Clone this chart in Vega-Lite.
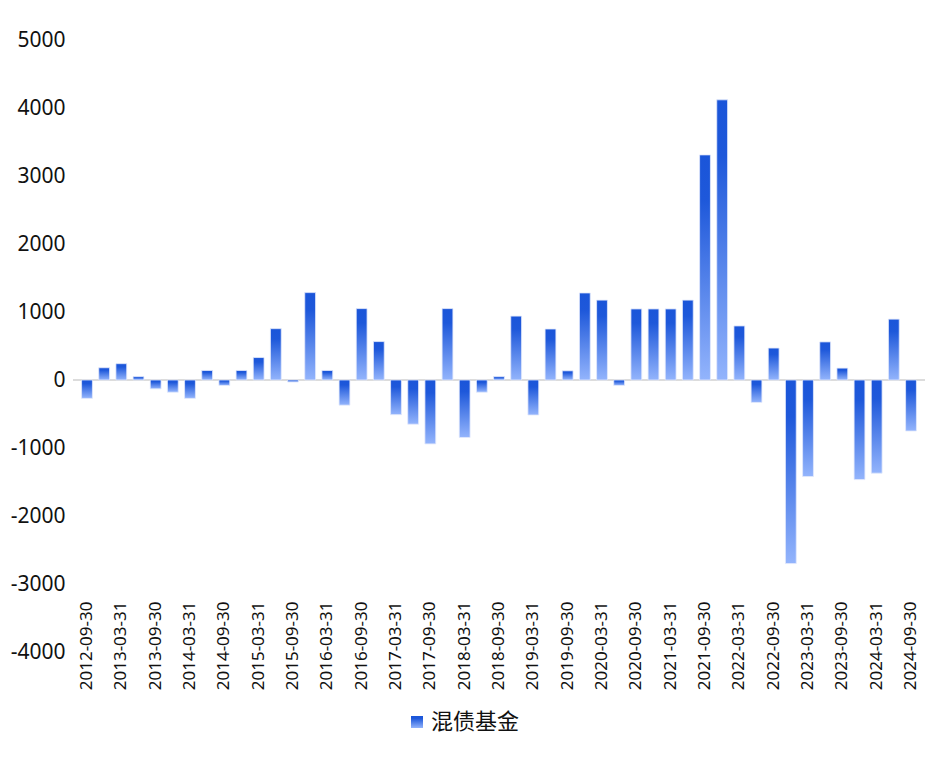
{
  "$schema": "https://vega.github.io/schema/vega-lite/v6.json",
  "autosize": {"type": "none"},
  "width": 852,
  "height": 612,
  "padding": {"left": 73, "top": 40, "right": 6, "bottom": 113},
  "background": "white",
  "config": {
    "view": {"stroke": null},
    "font": "Noto Sans, Noto Sans CJK SC"
  },
  "data": {
    "values": [
      {"date": "2012-09-30", "value": -270},
      {"date": "2012-12-31", "value": 180},
      {"date": "2013-03-31", "value": 240},
      {"date": "2013-06-30", "value": 50},
      {"date": "2013-09-30", "value": -130},
      {"date": "2013-12-31", "value": -180},
      {"date": "2014-03-31", "value": -270},
      {"date": "2014-06-30", "value": 140},
      {"date": "2014-09-30", "value": -80},
      {"date": "2014-12-31", "value": 140},
      {"date": "2015-03-31", "value": 330},
      {"date": "2015-06-30", "value": 755},
      {"date": "2015-09-30", "value": -30},
      {"date": "2015-12-31", "value": 1285},
      {"date": "2016-03-31", "value": 140},
      {"date": "2016-06-30", "value": -370},
      {"date": "2016-09-30", "value": 1050},
      {"date": "2016-12-31", "value": 565},
      {"date": "2017-03-31", "value": -510},
      {"date": "2017-06-30", "value": -650},
      {"date": "2017-09-30", "value": -940},
      {"date": "2017-12-31", "value": 1050},
      {"date": "2018-03-31", "value": -845},
      {"date": "2018-06-30", "value": -180},
      {"date": "2018-09-30", "value": 50},
      {"date": "2018-12-31", "value": 940},
      {"date": "2019-03-31", "value": -515},
      {"date": "2019-06-30", "value": 750},
      {"date": "2019-09-30", "value": 135},
      {"date": "2019-12-31", "value": 1280},
      {"date": "2020-03-31", "value": 1175},
      {"date": "2020-06-30", "value": -80},
      {"date": "2020-09-30", "value": 1045},
      {"date": "2020-12-31", "value": 1045},
      {"date": "2021-03-31", "value": 1045},
      {"date": "2021-06-30", "value": 1175},
      {"date": "2021-09-30", "value": 3310},
      {"date": "2021-12-31", "value": 4120},
      {"date": "2022-03-31", "value": 795},
      {"date": "2022-06-30", "value": -330},
      {"date": "2022-09-30", "value": 470},
      {"date": "2022-12-31", "value": -2700},
      {"date": "2023-03-31", "value": -1420},
      {"date": "2023-06-30", "value": 560},
      {"date": "2023-09-30", "value": 175},
      {"date": "2023-12-31", "value": -1465},
      {"date": "2024-03-31", "value": -1370},
      {"date": "2024-06-30", "value": 895},
      {"date": "2024-09-30", "value": -750}
    ]
  },
  "layer": [
    {
      "mark": {"type": "rule", "color": "#dcdcdc", "strokeWidth": 2},
      "encoding": {"y": {"datum": 0, "type": "quantitative"}}
    },
    {
      "mark": {
        "type": "bar",
        "stroke": "#e2e9fb",
        "strokeWidth": 0.8,
        "color": {
          "gradient": "linear", "x1": 0, "y1": 0, "x2": 0, "y2": 1,
          "stops": [
            {"offset": 0, "color": "#1a55d9"},
            {"offset": 0.2, "color": "#1e58da"},
            {"offset": 1, "color": "#93b4fc"}
          ]
        }
      },
      "encoding": {
        "x": {
          "field": "date",
          "type": "ordinal",
          "sort": null,
          "scale": {"paddingInner": 0.37, "paddingOuter": 0.5},
          "axis": {
            "title": null,
            "domain": false,
            "ticks": false,
            "labelAngle": -90,
            "labelFontSize": 17,
            "labelColor": "#111",
            "labelPadding": -51,
            "values": ["2012-09-30", "2013-03-31", "2013-09-30", "2014-03-31", "2014-09-30", "2015-03-31", "2015-09-30", "2016-03-31", "2016-09-30", "2017-03-31", "2017-09-30", "2018-03-31", "2018-09-30", "2019-03-31", "2019-09-30", "2020-03-31", "2020-09-30", "2021-03-31", "2021-09-30", "2022-03-31", "2022-09-30", "2023-03-31", "2023-09-30", "2024-03-31", "2024-09-30"]
          }
        },
        "y": {
          "field": "value",
          "type": "quantitative",
          "scale": {"domain": [-4000, 5000], "nice": false},
          "axis": {
            "title": null,
            "domain": false,
            "ticks": false,
            "grid": false,
            "values": [-4000, -3000, -2000, -1000, 0, 1000, 2000, 3000, 4000, 5000],
            "labelExpr": "'' + datum.value",
            "labelFontSize": 21,
            "labelColor": "#111",
            "labelPadding": 8
          }
        },
        "opacity": {
          "datum": "混债基金",
          "type": "nominal",
          "scale": {"range": [1]},
          "legend": {
            "title": null,
            "orient": "none",
            "legendX": 333,
            "legendY": 671,
            "symbolType": "square",
            "symbolSize": 144,
            "symbolStrokeWidth": 0,
            "symbolOpacity": 1,
            "labelFontSize": 22,
            "labelColor": "#111",
            "labelOffset": 3,
            "padding": 0,
            "encode": {
              "symbols": {
                "update": {
                  "fill": {"value": {
                    "gradient": "linear", "x1": 0, "y1": 0, "x2": 0, "y2": 1,
                    "stops": [
                      {"offset": 0, "color": "#1a55d9"},
                      {"offset": 1, "color": "#93b4fc"}
                    ]
                  }},
                  "opacity": {"value": 1}
                }
              }
            }
          }
        }
      }
    }
  ]
}
